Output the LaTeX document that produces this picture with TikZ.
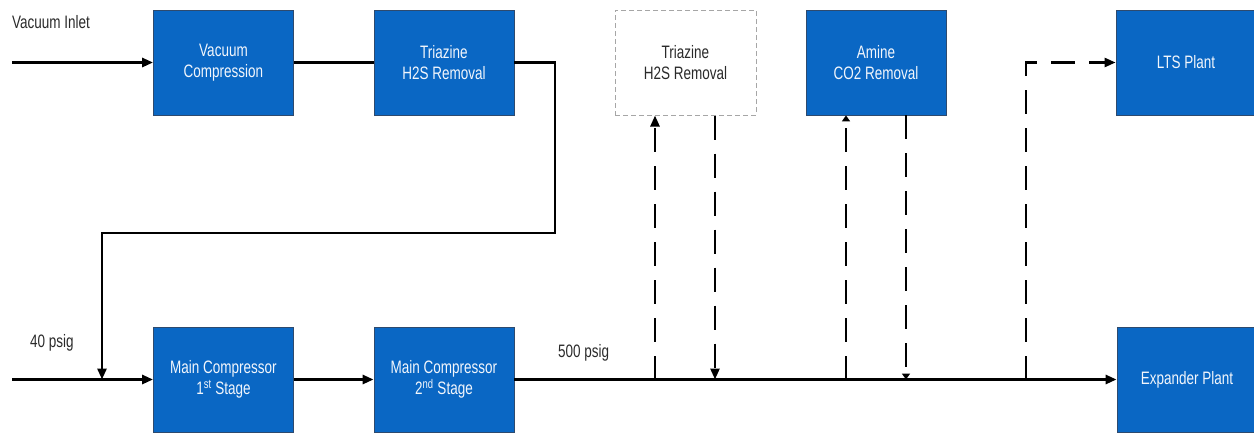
\documentclass[tikz,border=0pt]{standalone}
\usepackage{fontspec}
\setmainfont[FakeStretch=0.75]{Liberation Sans}
\usetikzlibrary{arrows.meta}
\definecolor{boxblue}{HTML}{0A67C4}
\definecolor{boxedge}{HTML}{2E4A6E}
\definecolor{txtwhite}{HTML}{F2F6FC}
\definecolor{txtgray}{HTML}{2A2A2A}
\begin{document}
\begin{tikzpicture}[x=1pt,y=-1pt,
  every node/.style={font=\fontsize{18}{20.5}\selectfont},
  unit/.style={draw=boxedge,line width=0.8pt,fill=boxblue,text=txtwhite,
    minimum width=140pt,minimum height=105pt,inner sep=0pt,align=center},
  optunit/.style={draw=gray!70,dash pattern=on 5pt off 3pt,line width=1pt,fill=white,text=txtgray,
    minimum width=141pt,minimum height=105pt,inner sep=0pt,align=center},
  flow/.style={line width=2.7pt,black},
  arr/.style={flow,-{Triangle[length=11pt,width=9pt]}},
  dflow/.style={line width=2.5pt,black,dash pattern=on 24pt off 14pt},
  darr/.style={dflow,-{Triangle[length=11pt,width=9pt]}},
  sdarr/.style={dflow,-{Triangle[length=6pt,width=8pt]}},
  lbl/.style={text=txtgray,inner sep=0pt}]
\useasboundingbox (0,0) rectangle (1254,432);

% nodes
\node[unit] (vc)  at (223.5,62.5) {Vacuum\\Compression};
\node[unit] (tz)  at (444,62.5) {Triazine\\H2S Removal};
\node[optunit] (tzd) at (685.5,62.5) {Triazine\\H2S Removal};
\node[unit] (am)  at (876,62.5) {Amine\\CO2 Removal};
\node[unit] (lts) at (1186,62.5) {LTS Plant};
\node[unit] (mc1) at (223.5,379.5) {Main Compressor\\1\textsuperscript{st} Stage};
\node[unit] (mc2) at (444,379.5) {Main Compressor\\2\textsuperscript{nd} Stage};
\node[unit] (exp) at (1187,379.5) {Expander Plant};

% labels
\node[lbl,anchor=west] (vin) at (12,22) {Vacuum Inlet};
\node[lbl,anchor=west] (p40) at (30,343) {40 psig};
\node[lbl,anchor=west] (p500) at (558,353) {500 psig};

% coordinates
\coordinate (in1) at (12,62.5);
\coordinate (in2) at (12,379.5);
\coordinate (r1) at (555,233);
\coordinate (j0) at (102,379.5);
\coordinate (j1) at (655,379.5);
\coordinate (j2) at (715,379.5);
\coordinate (j3) at (846,379.5);
\coordinate (j4) at (906,379.5);
\coordinate (j5) at (1026,379.5);

% solid flows
\draw[arr] (in1) -- (vc.west);
\draw[flow] (vc.east) -- (tz.west);
\draw[arr] (tz.east) -| (r1) -| (j0);
\draw[arr] (in2) -- (mc1.west);
\draw[arr] (mc1.east) -- (mc2.west);
\draw[arr] (mc2.east) -- (exp.west);

% dashed flows
\draw[darr] (j1) -- (j1 |- tzd.south);
\draw[darr] (j2 |- tzd.south) -- (j2);
\draw[sdarr] (j3) -- (j3 |- am.south);
\draw[sdarr] (j4 |- am.south) -- (j4);
\draw[darr] (j5) |- (lts.west);
\end{tikzpicture}
\end{document}
